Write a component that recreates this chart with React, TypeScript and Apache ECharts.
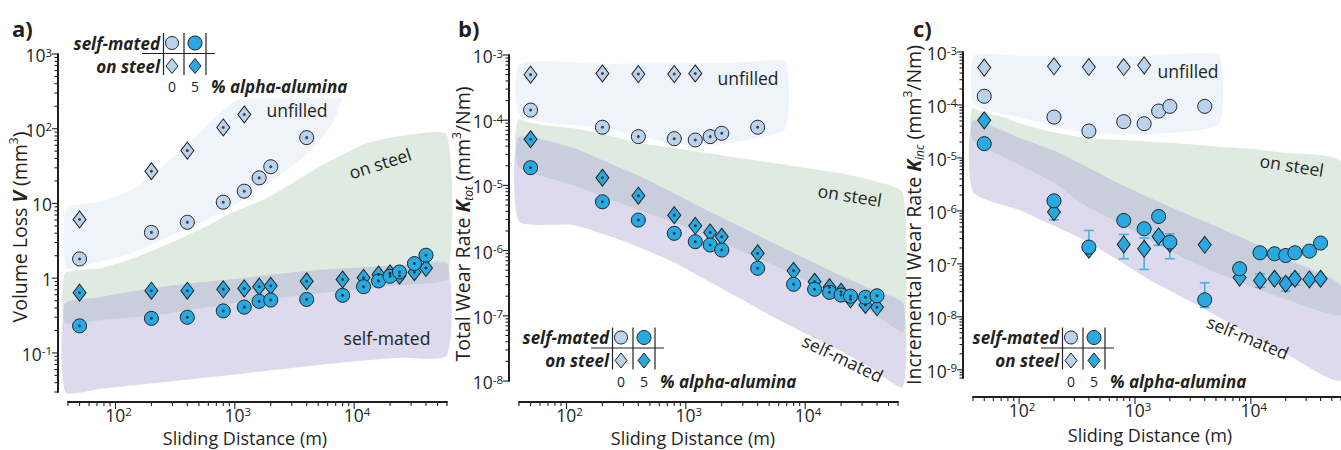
import React, { useEffect, useRef } from "react";
import * as echarts from "echarts";

const FONT = "'Open Sans', 'Noto Sans', sans-serif";
const INK = "#231f20";
const LIGHT = "#b9d3ed";
const DARK = "#27aae1";
const ERR = "#3fb4e6";
const C_UNF = "#eff4fb";
const C_GREEN = "#dfeae0";
const C_PURPLE = "#dcdaec";
const C_GRAY = "#c8cedb";

// sliding distances (m)
const distance = [50, 200, 400, 800, 1200, 1600, 2000, 4000, 8000, 12000, 16000, 20000, 24000, 32000, 40000];

// (a) Volume loss V (mm^3)
const volUnfilledSteel = [6.1, 27, 51, 104, 155];
const volUnfilledSelf = [1.81, 4.1, 5.6, 10.4, 14.6, 22, 31, 76];
const volFilledSteel = [0.64, 0.68, 0.68, 0.71, 0.73, 0.77, 0.79, 0.91, 0.96, 1.01, 1.12, 1.16, 1.08, 1.2, 1.37];
const volFilledSelf = [0.23, 0.29, 0.3, 0.365, 0.41, 0.49, 0.51, 0.52, 0.59, 0.77, 0.92, 1.06, 1.21, 1.57, 2.03];

// (b) Total wear rate K_tot (mm^3/Nm)
const ktotUnfilledSteel = [5.0e-4, 5.2e-4, 5.1e-4, 5.1e-4, 5.2e-4];
const ktotUnfilledSelf = [1.43e-4, 7.8e-5, 5.6e-5, 5.2e-5, 4.97e-5, 5.6e-5, 6.3e-5, 7.8e-5];
const ktotFilledSteel = [5.1e-5, 1.31e-5, 6.95e-6, 3.5e-6, 2.4e-6, 1.9e-6, 1.63e-6, 9.1e-7, 4.9e-7, 3.33e-7, 2.74e-7, 2.34e-7, 1.79e-7, 1.47e-7, 1.35e-7];
const ktotFilledSelf = [1.87e-5, 5.6e-6, 2.94e-6, 1.84e-6, 1.37e-6, 1.22e-6, 1.02e-6, 5.35e-7, 3.04e-7, 2.55e-7, 2.29e-7, 2.08e-7, 2.0e-7, 1.92e-7, 2.03e-7];

// (c) Incremental wear rate K_inc (mm^3/Nm)
const kincUnfilledSteel = [5.07e-4, 5.37e-4, 5.2e-4, 5.2e-4, 5.6e-4];
const kincUnfilledSelf = [1.46e-4, 5.9e-5, 3.22e-5, 4.84e-5, 4.43e-5, 7.67e-5, 9.4e-5, 9.4e-5];
const kincFilledSteel = [5.13e-5, 9.5e-7, 1.85e-7, 2.33e-7, 1.93e-7, 3.3e-7, 2.4e-7, 2.29e-7, 5.5e-8, 4.86e-8, 5.24e-8, 4.21e-8, 5.24e-8, 5.08e-8, 5.24e-8];
const kincFilledSelf = [1.86e-5, 1.55e-6, 2.07e-7, 6.6e-7, 4.6e-7, 7.85e-7, 2.57e-7, 2.1e-8, 8.1e-8, 1.62e-7, 1.55e-7, 1.44e-7, 1.62e-7, 1.74e-7, 2.47e-7];
const kincErrX = [200, 400, 800, 1200, 1600, 2000, 4000, 12000, 20000, 24000];
const kincErrLow = [6.8e-7, 1.7e-7, 1.25e-7, 7.85e-8, 2.23e-7, 1.25e-7, 1.5e-8, 3.6e-8, 3.06e-8, 4.0e-8];
const kincErrHigh = [1.2e-6, 4.27e-7, 3.6e-7, 3.06e-7, 3.97e-7, 3.7e-7, 4.4e-8, 6.5e-8, 5.5e-8, 6.5e-8];

// shaded regions (a)
const volBandX = [38, 75, 141, 272, 513, 968, 1862, 4870, 12700, 24000, 60000];
const volSteelTop = [1.17, 1.36, 1.85, 2.85, 4.53, 7.65, 11.8, 29.7, 64, 79.5, 82];
const volSteelBottom = [0.25, 0.274, 0.3, 0.335, 0.396, 0.463, 0.528, 0.62, 0.72, 0.805, 0.94];
const volSelfTop = [0.463, 0.557, 0.67, 0.78, 0.88, 0.97, 1.1, 1.28, 1.4, 1.49, 1.59];
const volSelfBottom = [0.03, 0.0332, 0.037, 0.0412, 0.0459, 0.051, 0.0578, 0.0685, 0.0798, 0.0863, 0.0931];
const volUnfX = [38, 75, 141, 272, 513, 968, 1343, 3508, 5140, 6900, 8040];
const volUnfTop = [8.9, 11.1, 16.5, 38, 96, 241, 265, 265, 265, 265, 265];
const volUnfBottom = [1.32, 1.59, 2.1, 3.33, 5.28, 8.9, 12.1, 35.7, 64, 122, 241];

// shaded regions (b)
const ktotBandX = [40, 114, 216, 408, 785, 1485, 2805, 5400, 10200, 19260, 35650, 66000];
const ktotSteelTop = [1.04e-4, 7.58e-5, 5.93e-5, 4.47e-5, 3.75e-5, 3.14e-5, 2.63e-5, 2.21e-5, 1.85e-5, 1.55e-5, 1.21e-5, 7.64e-6];
const ktotSteelBottom = [1.92e-5, 1.01e-5, 6.41e-6, 4.2e-6, 2.75e-6, 1.68e-6, 1.02e-6, 6.0e-7, 3.54e-7, 2.08e-7, 1.14e-7, 5.65e-8];
const ktotSelfTop = [5.52e-5, 3.75e-5, 2.29e-5, 1.39e-5, 7.64e-6, 4.2e-6, 2.38e-6, 1.31e-6, 7.43e-7, 4.22e-7, 2.58e-7, 1.57e-7];
const ktotSelfBottom = [2.84e-6, 2.47e-6, 1.73e-6, 1.13e-6, 6.68e-7, 3.54e-7, 1.87e-7, 9.6e-8, 5.26e-8, 2.99e-8, 1.58e-8, 8.1e-9];
const ktotUnfX = [40, 216, 785, 1485, 2805, 6930];
const ktotUnfTop = [7.6e-4, 7.7e-4, 7.9e-4, 8.0e-4, 8.1e-4, 8.2e-4];
const ktotUnfBottom = [1.12e-4, 7.08e-5, 4.17e-5, 3.88e-5, 4.47e-5, 7.08e-5];

// shaded regions (c)
const kincBandX = [40, 103, 197, 373, 718, 1368, 2594, 5010, 9500, 18000, 60000];
const kincSteelTop = [8.75e-5, 4.43e-5, 3.08e-5, 2.39e-5, 2.21e-5, 2.03e-5, 1.86e-5, 1.65e-5, 1.5e-5, 1.27e-5, 8.35e-6];
const kincSteelBottom = [2.15e-5, 7.23e-6, 3.45e-6, 1.27e-6, 6.06e-7, 2.77e-7, 1.32e-7, 6.88e-8, 3.91e-8, 2.32e-8, 1.06e-8];
const kincSelfTop = [5.13e-5, 2.34e-5, 1.39e-5, 6.93e-6, 3.31e-6, 1.72e-6, 9.37e-7, 5.1e-7, 2.77e-7, 1.38e-7, 3.91e-8];
const kincSelfBottom = [2.27e-6, 1.02e-6, 5.32e-7, 2.77e-7, 1.16e-7, 4.86e-8, 2.32e-8, 1.06e-8, 4.84e-9, 2.31e-9, 6.26e-10];
const kincUnfX = [40, 103, 376, 1368, 5370];
const kincUnfTop = [9.05e-4, 9.05e-4, 9.05e-4, 9.05e-4, 9.05e-4];
const kincUnfBottom = [9.84e-5, 5.36e-5, 2.79e-5, 2.67e-5, 4.12e-5];

const X_MIN = 40;
const X_MAX = 60000;

type Panel = {
  grid: { left: number; top: number; width: number; height: number };
  yMin: number; yMax: number; xOff: number; yOff: number;
  plainSmall: boolean; dots: boolean;
  unfSteel: number[]; unfSelf: number[]; filSteel: number[]; filSelf: number[];
  bandX: number[]; steelTop: number[]; steelBottom: number[]; selfTop: number[]; selfBottom: number[];
  unfX: number[]; unfTop: number[]; unfBottom: number[];
};

const panels: Panel[] = [
  {
    grid: { left: 68, top: 54, width: 379, height: 338 }, yMin: 0.03, yMax: 1000, xOff: 10, yOff: 10,
    plainSmall: true, dots: true,
    unfSteel: volUnfilledSteel, unfSelf: volUnfilledSelf, filSteel: volFilledSteel, filSelf: volFilledSelf,
    bandX: volBandX, steelTop: volSteelTop, steelBottom: volSteelBottom, selfTop: volSelfTop, selfBottom: volSelfBottom,
    unfX: volUnfX, unfTop: volUnfTop, unfBottom: volUnfBottom,
  },
  {
    grid: { left: 519, top: 55, width: 379, height: 326 }, yMin: 1e-8, yMax: 1e-3, xOff: 21, yOff: 10,
    plainSmall: false, dots: true,
    unfSteel: ktotUnfilledSteel, unfSelf: ktotUnfilledSelf, filSteel: ktotFilledSteel, filSelf: ktotFilledSelf,
    bandX: ktotBandX, steelTop: ktotSteelTop, steelBottom: ktotSteelBottom, selfTop: ktotSelfTop, selfBottom: ktotSelfBottom,
    unfX: ktotUnfX, unfTop: ktotUnfTop, unfBottom: ktotUnfBottom,
  },
  {
    grid: { left: 973, top: 52, width: 377, height: 326 }, yMin: 7e-10, yMax: 1e-3, xOff: 19, yOff: 10,
    plainSmall: false, dots: false,
    unfSteel: kincUnfilledSteel, unfSelf: kincUnfilledSelf, filSteel: kincFilledSteel, filSelf: kincFilledSelf,
    bandX: kincBandX, steelTop: kincSteelTop, steelBottom: kincSteelBottom, selfTop: kincSelfTop, selfBottom: kincSelfBottom,
    unfX: kincUnfX, unfTop: kincUnfTop, unfBottom: kincUnfBottom,
  },
];

function logTicks(min: number, max: number) {
  const out: { v: number; major: boolean; e: number }[] = [];
  const k0 = Math.floor(Math.log10(min));
  const k1 = Math.ceil(Math.log10(max));
  for (let k = k0; k <= k1; k++) {
    for (let m = 1; m <= 9; m++) {
      const v = m * Math.pow(10, k);
      if (v >= min * 0.9999 && v <= max * 1.0001) out.push({ v, major: m === 1, e: k });
    }
  }
  return out;
}

const TICK_FS = 17.5;
const SUP_FS = 11.5;
const labelRich = {
  b: { fontSize: TICK_FS, fontFamily: FONT, fill: INK, color: INK, lineHeight: 18 },
  s: { fontSize: SUP_FS, fontFamily: FONT, fill: INK, color: INK, lineHeight: 9, verticalAlign: "top" },
};

const tickText = (e: number, plainSmall: boolean) => {
  if (plainSmall && e === 0) return "{b|1}";
  if (plainSmall && e === 1) return "{b|10}";
  return `{b|10}{s|${e}}`;
};

const pts = (ys: number[]) => ys.map((y, i) => [distance[i], y]);

function textEl(text: string, x: number, y: number, opts: any = {}) {
  const align = opts.align || "center";
  const style: any = {
    text,
    fill: INK,
    fontFamily: FONT,
    fontSize: opts.fontSize || 17,
    fontWeight: opts.fontWeight || "normal",
    fontStyle: opts.fontStyle || "normal",
    align, textAlign: align,
    verticalAlign: "middle", textVerticalAlign: "middle",
  };
  if (opts.rich) style.rich = opts.rich;
  if (opts.lineHeight) style.lineHeight = opts.lineHeight;
  return { type: "text", x, y, rotation: opts.rotation || 0, z: 100, style };
}

function legend(dx: number, dy: number) {
  const bi = { fontSize: 17, fontWeight: "bold", fontStyle: "italic" };
  const line = (x1: number, y1: number, x2: number, y2: number) => ({
    type: "line", z: 100, shape: { x1: x1 + dx, y1: y1 + dy, x2: x2 + dx, y2: y2 + dy },
    style: { stroke: INK, lineWidth: 1.2 },
  });
  const diamond = (cx: number, cy: number, fill: string) => ({
    type: "polygon", z: 100,
    shape: { points: [[cx + dx, cy + dy - 7.5], [cx + dx + 6, cy + dy], [cx + dx, cy + dy + 7.5], [cx + dx - 6, cy + dy]] },
    style: { fill, stroke: INK, lineWidth: 1 },
  });
  return [
    textEl("self-mated", 160 + dx, 43 + dy, { ...bi, align: "right" }),
    textEl("on steel", 160 + dx, 66 + dy, { ...bi, align: "right" }),
    line(163.5, 33, 163.5, 75),
    line(184, 33, 184, 75),
    line(206, 33, 206, 75),
    line(142, 53.5, 215, 53.5),
    { type: "circle", z: 100, shape: { cx: 172 + dx, cy: 43 + dy, r: 6.5 }, style: { fill: LIGHT, stroke: INK, lineWidth: 1 } },
    { type: "circle", z: 100, shape: { cx: 195 + dx, cy: 43 + dy, r: 7 }, style: { fill: DARK, stroke: INK, lineWidth: 1 } },
    diamond(172, 66, LIGHT),
    diamond(195, 66, DARK),
    textEl("0", 172 + dx, 86.5 + dy, { fontSize: 14 }),
    textEl("5", 195 + dx, 86.5 + dy, { fontSize: 14 }),
    textEl("% alpha-alumina", 211 + dx, 86.5 + dy, { ...bi, align: "left" }),
  ];
}

const TITLE_FS = 19.5;
const NAME_FS = 18;
const titleRich = {
  n: { fontSize: TITLE_FS, fontFamily: FONT, color: INK, lineHeight: 24 },
  v: { fontSize: TITLE_FS, fontFamily: FONT, color: INK, lineHeight: 24, fontWeight: "bold", fontStyle: "italic" },
  sup: { fontSize: 12, fontFamily: FONT, color: INK, lineHeight: 14, verticalAlign: "top" },
  sub: { fontSize: 12, fontFamily: FONT, color: INK, lineHeight: 13, verticalAlign: "bottom", fontStyle: "italic" },
};

function buildOption() {
  const series: any[] = [];
  panels.forEach((p, i) => {
    // shaded regions
    series.push({
      type: "custom", xAxisIndex: i, yAxisIndex: i, z: 1, silent: true, clip: false,
      data: [[X_MIN, p.yMin]],
      renderItem: (_params: any, api: any) => {
        const poly = (xs: number[], up: number[], lo: number[], fill: string, stroke?: string) => {
          const top = xs.map((x, j) => api.coord([x, up[j]]));
          const bot = xs.map((x, j) => api.coord([x, lo[j]])).reverse();
          return {
            type: "polygon",
            shape: { points: top.concat(bot), smooth: 0.2 },
            style: stroke ? { fill, stroke, lineWidth: 3 } : { fill },
          };
        };
        return {
          type: "group",
          children: [
            poly(p.bandX, p.steelTop, p.steelBottom, C_GREEN),
            poly(p.bandX, p.selfTop, p.selfBottom, C_PURPLE),
            poly(p.bandX, p.selfTop, p.steelBottom, C_GRAY),
            poly(p.unfX, p.unfTop, p.unfBottom, C_UNF, "#ffffff"),
          ],
        };
      },
    });
    // axis ticks (major + minor, log-spaced) and decade labels
    series.push({
      type: "custom", xAxisIndex: i, yAxisIndex: i, z: 5, silent: true, clip: false,
      data: [[X_MIN, p.yMin]],
      renderItem: (_params: any, api: any) => {
        const origin = api.coord([X_MIN, p.yMin]);
        const axisY = origin[1] + p.xOff;
        const axisX = origin[0] - p.yOff;
        const children: any[] = [];
        logTicks(X_MIN, X_MAX).forEach((t) => {
          const px = api.coord([t.v, p.yMin])[0];
          children.push({ type: "line", shape: { x1: px, y1: axisY, x2: px, y2: axisY + (t.major ? 7 : 4) }, style: { stroke: INK, lineWidth: 1.1 } });
          if (t.major) {
            children.push({
              type: "text", x: px + 3, y: axisY + 12.5,
              style: {
                text: tickText(t.e, false), rich: labelRich, fill: INK, fontFamily: FONT, fontSize: TICK_FS,
                align: "center", textAlign: "center", verticalAlign: "middle", textVerticalAlign: "middle",
              },
            });
          }
        });
        logTicks(p.yMin, p.yMax).forEach((t) => {
          const py = api.coord([X_MIN, t.v])[1];
          children.push({ type: "line", shape: { x1: axisX - (t.major ? 6 : 3.5), y1: py, x2: axisX, y2: py }, style: { stroke: INK, lineWidth: 1.1 } });
          if (t.major) {
            children.push({
              type: "text", x: axisX - 6, y: py + 1,
              style: {
                text: tickText(t.e, p.plainSmall), rich: labelRich, fill: INK, fontFamily: FONT, fontSize: TICK_FS,
                align: "right", textAlign: "right", verticalAlign: "middle", textVerticalAlign: "middle",
              },
            });
          }
        });
        return { type: "group", children };
      },
    });
    if (i === 2) {
      series.push({
        type: "custom", xAxisIndex: i, yAxisIndex: i, z: 2, silent: true, clip: false,
        data: kincErrX.map((x, j) => [x, kincErrLow[j], kincErrHigh[j]]),
        encode: { x: 0, y: [1, 2] },
        renderItem: (_params: any, api: any) => {
          const x = api.value(0);
          const lo = api.coord([x, api.value(1)]);
          const hi = api.coord([x, api.value(2)]);
          const w = 5;
          const st = { stroke: ERR, lineWidth: 1.6 };
          return {
            type: "group",
            children: [
              { type: "line", shape: { x1: lo[0], y1: lo[1], x2: hi[0], y2: hi[1] }, style: st },
              { type: "line", shape: { x1: lo[0] - w, y1: lo[1], x2: lo[0] + w, y2: lo[1] }, style: st },
              { type: "line", shape: { x1: hi[0] - w, y1: hi[1], x2: hi[0] + w, y2: hi[1] }, style: st },
            ],
          };
        },
      });
    }
    const sc = (name: string, data: number[][], symbol: string, size: any, color: string) => ({
      name, type: "scatter", xAxisIndex: i, yAxisIndex: i, z: 3, silent: true,
      symbol, symbolSize: size, data,
      itemStyle: { color, borderColor: INK, borderWidth: 1, opacity: 1 },
    });
    series.push(sc("unfilled on steel", pts(p.unfSteel), "diamond", [13, 17], LIGHT));
    series.push(sc("unfilled self-mated", pts(p.unfSelf), "circle", 14, LIGHT));
    series.push(sc("5% on steel", pts(p.filSteel), "diamond", [13, 17], DARK));
    series.push(sc("5% self-mated", pts(p.filSelf), "circle", 14, DARK));
    if (p.dots) {
      series.push({
        type: "scatter", xAxisIndex: i, yAxisIndex: i, z: 4, silent: true, symbol: "circle", symbolSize: 3,
        data: [...pts(p.unfSteel), ...pts(p.unfSelf), ...pts(p.filSteel), ...pts(p.filSelf)],
        itemStyle: { color: INK },
      });
    }
  });

  const nameOpts = { fontSize: NAME_FS, lineHeight: 18 };
  const graphicEls: any[] = [
    textEl("a)", 12, 28, { align: "left", fontSize: 22, fontWeight: "bold" }),
    textEl("b)", 458, 28, { align: "left", fontSize: 22, fontWeight: "bold" }),
    textEl("c)", 913, 28, { align: "left", fontSize: 22, fontWeight: "bold" }),
    textEl("Sliding Distance (m)", 245, 437.5, nameOpts),
    textEl("Sliding Distance (m)", 693, 437.5, nameOpts),
    textEl("Sliding Distance (m)", 1150, 435, nameOpts),
    textEl("{n|Volume Loss }{v|V}{n| (mm}{sup|3}{n|)}", 19, 227, { rotation: Math.PI / 2, rich: titleRich, fontSize: TITLE_FS }),
    textEl("{n|Total Wear Rate }{v|K}{sub|tot}{n| (mm}{sup|3}{n|/Nm)}", 462, 224, { rotation: Math.PI / 2, rich: titleRich, fontSize: TITLE_FS }),
    textEl("{n|Incremental Wear Rate }{v|K}{sub|inc}{n| (mm}{sup|3}{n|/Nm)}", 913, 215, { rotation: Math.PI / 2, rich: titleRich, fontSize: TITLE_FS }),
    textEl("unfilled", 297, 110, { fontSize: 17.5 }),
    textEl("on steel", 380, 163, { fontSize: 17.5, rotation: 0.31 }),
    textEl("self-mated", 387, 338, { fontSize: 17.5 }),
    textEl("unfilled", 748, 78, { fontSize: 17.5 }),
    textEl("on steel", 850, 195, { fontSize: 17.5, rotation: -0.157 }),
    textEl("self-mated", 843, 358, { fontSize: 17.5, rotation: -0.447 }),
    textEl("unfilled", 1188, 71, { fontSize: 17.5 }),
    textEl("on steel", 1292, 165, { fontSize: 17.5, rotation: -0.157 }),
    textEl("self-mated", 1248, 337, { fontSize: 17.5, rotation: -0.39 }),
    ...legend(0, 0),
    ...legend(449, 294.5),
    ...legend(899, 294.5),
  ];

  return {
    animation: false,
    backgroundColor: "#ffffff",
    grid: panels.map((p) => ({ ...p.grid, containLabel: false })),
    xAxis: panels.map((p, i) => ({
      type: "log", logBase: 10, gridIndex: i, min: X_MIN, max: X_MAX, offset: p.xOff,
      axisLine: { show: true, onZero: false, lineStyle: { color: INK, width: 2 } },
      axisTick: { show: false }, splitLine: { show: false }, minorTick: { show: false },
      axisLabel: { show: false },
    })),
    yAxis: panels.map((p, i) => ({
      type: "log", logBase: 10, gridIndex: i, min: p.yMin, max: p.yMax, offset: p.yOff,
      axisLine: { show: true, onZero: false, lineStyle: { color: INK, width: 2 } },
      axisTick: { show: false }, splitLine: { show: false }, minorTick: { show: false },
      axisLabel: { show: false },
    })),
    series,
    graphic: { elements: graphicEls },
  };
}

export default function App() {
  const ref = useRef<HTMLDivElement>(null);
  useEffect(() => {
    if (!ref.current) return;
    const chart = echarts.init(ref.current, undefined, { renderer: "svg" });
    chart.setOption(buildOption() as any);
    return () => chart.dispose();
  }, []);
  return (
    <div
      ref={ref}
      style={{ position: "fixed", left: 0, top: 0, width: 1341, height: 450, background: "#fff" }}
    />
  );
}
